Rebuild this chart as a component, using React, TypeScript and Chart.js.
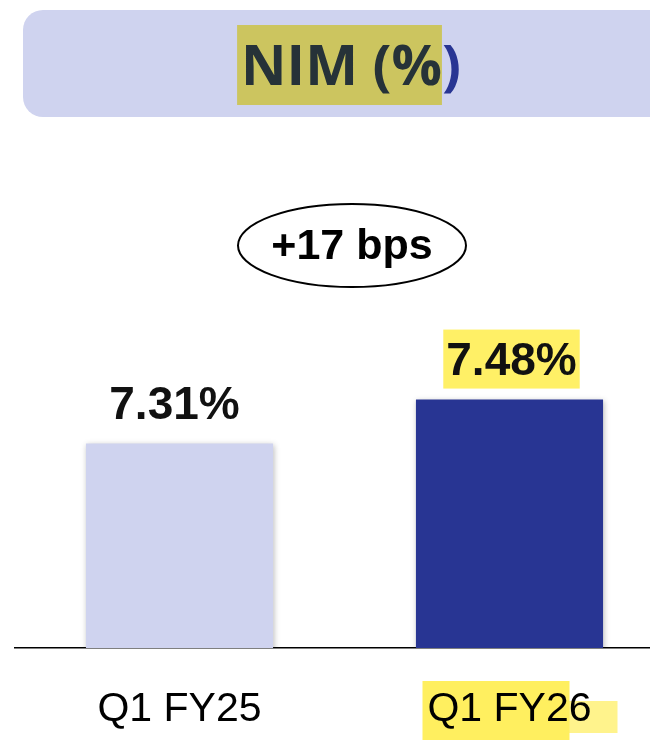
import React, { useEffect, useRef } from "react";
import { Chart, registerables } from "chart.js";

Chart.register(...registerables);

const categories = ["Q1 FY25", "Q1 FY26"];
const nimValues = [7.31, 7.48];
const barColors = ["#cfd3ef", "#283593"];
const titleMain = "NIM (%";
const titleTail = ")";
const yMin = 6.52;
const yMax = 8.0;

const changeBps = Math.round((nimValues[1] - nimValues[0]) * 10000) / 100;
const changeLabel = `+${Math.round(changeBps)} bps`;

const overlayPlugin = {
  id: "overlay",
  beforeDraw(chart: any) {
    const ctx = chart.ctx;
    ctx.save();
    // title box
    ctx.fillStyle = "#cfd3ef";
    ctx.beginPath();
    ctx.roundRect(23, 10, 720, 107, 20);
    ctx.fill();
    ctx.font = "700 56px 'Open Sans'";
    ctx.textBaseline = "alphabetic";
    ctx.textAlign = "left";
    const w1 = ctx.measureText(titleMain).width;
    const w2 = ctx.measureText(titleTail).width;
    const start = 351 - (w1 + w2) / 2;
    ctx.fillStyle = "#ccc55f";
    ctx.fillRect(start - 4, 25, w1 + 4, 80);
    ctx.fillStyle = "#263238";
    ctx.fillText(titleMain, start, 85);
    ctx.fillStyle = "#283593";
    ctx.fillText(titleTail, start + w1, 85);

    // change ellipse
    ctx.beginPath();
    ctx.ellipse(352, 245.5, 114, 41.5, 0, 0, Math.PI * 2);
    ctx.lineWidth = 2;
    ctx.strokeStyle = "#000";
    ctx.stroke();
    ctx.font = "700 43px 'Liberation Sans'";
    ctx.textAlign = "center";
    ctx.fillStyle = "#000";
    ctx.fillText(changeLabel, 352, 259);

    // highlight behind second x label
    const xs = chart.scales.x;
    const tx = xs.getPixelForTick(1);
    ctx.fillStyle = "#fff38c";
    ctx.fillRect(tx + 58, 701, 50, 32);
    ctx.fillStyle = "#ffef5f";
    ctx.fillRect(tx - 87, 681, 147, 60);
    ctx.restore();
  },
  beforeDatasetsDraw(chart: any) {
    const ctx = chart.ctx;
    ctx.save();
    ctx.shadowColor = "rgba(0,0,0,0.28)";
    ctx.shadowBlur = 6;
    ctx.shadowOffsetX = 1;
    ctx.shadowOffsetY = 1;
  },
  afterDatasetsDraw(chart: any) {
    const ctx = chart.ctx;
    ctx.restore();
    ctx.save();
    const meta = chart.getDatasetMeta(0);
    ctx.font = "700 46px 'Liberation Sans'";
    ctx.textAlign = "center";
    ctx.textBaseline = "alphabetic";
    meta.data.forEach((bar: any, i: number) => {
      const label = nimValues[i].toFixed(2) + "%";
      const x = i === 0 ? bar.x - 5 : bar.x + 2;
      const y = bar.y;
      if (i === 1) {
        const w = ctx.measureText(label).width;
        ctx.fillStyle = "#fff066";
        ctx.fillRect(x - w / 2 - 3, y - 70, w + 6, 59);
      }
      ctx.fillStyle = "#111";
      ctx.fillText(label, x, y - 25);
    });
    ctx.restore();
  },
};

export default function App() {
  const ref = useRef<HTMLCanvasElement | null>(null);
  useEffect(() => {
    if (!ref.current) return;
    const chart = new Chart(ref.current, {
      type: "bar",
      data: {
        labels: categories,
        datasets: [
          {
            data: nimValues,
            backgroundColor: barColors,
            borderWidth: 0,
            categoryPercentage: 1,
            barPercentage: 0.567,
          },
        ],
      },
      options: {
        animation: false,
        responsive: false,
        layout: { padding: { top: 265, left: 14.5, right: 5.5, bottom: 0 } },
        plugins: { legend: { display: false }, tooltip: { enabled: false } },
        scales: {
          x: {
            grid: { display: false, drawTicks: false },
            border: { display: true, color: "#000", width: 1.5 },
            ticks: {
              color: "#000",
              padding: 37,
              font: { family: "'Liberation Sans'", size: 41 },
            },
            afterFit: (s: any) => {
              s.height = 92;
            },
          },
          y: { display: false, min: yMin, max: yMax },
        },
      },
      plugins: [overlayPlugin],
    });
    return () => chart.destroy();
  }, []);
  return (
    <div
      style={{
        position: "fixed",
        left: 0,
        top: 0,
        width: 650,
        height: 740,
        overflow: "hidden",
        background: "#fff",
      }}
    >
      <canvas ref={ref} width={680} height={740} style={{ display: "block" }} />
    </div>
  );
}
